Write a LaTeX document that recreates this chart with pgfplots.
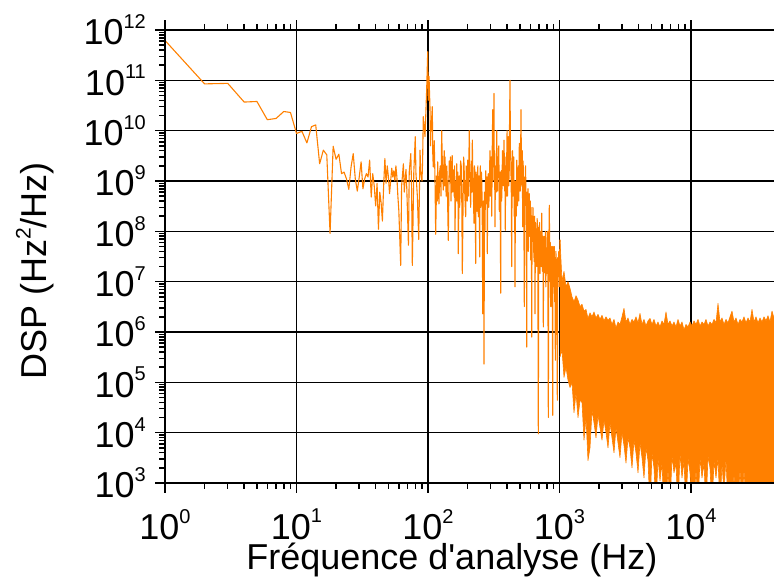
\documentclass[border=0pt]{standalone}
\usepackage{fontspec}
\setmainfont{Liberation Sans}
\usepackage{pgfplots}
\pgfplotsset{compat=1.18}
\definecolor{dsp}{RGB}{255,128,0}
\newcommand{\p}[1]{10\raisebox{0.45em}{\fontsize{20}{20}\selectfont #1}}
\begin{document}
\fontsize{36}{43}\selectfont
\begin{tikzpicture}
\begin{axis}[
  xmode=log, ymode=log,
  scale only axis, width=609pt, height=453pt,
  xmin=1, xmax=42777, ymin=1e3, ymax=1e12,
  axis x line*=box, axis y line*=left,
  axis line style={line width=2pt, black},
  xtick={1,10,100,1000,10000},
  xticklabels={\p{0},\p{1},\p{2},\p{3},\p{4}},
  ytick={1e3,1e4,1e5,1e6,1e7,1e8,1e9,1e10,1e11,1e12},
  yticklabels={\p{3},\p{4},\p{5},\p{6},\p{7},\p{8},\p{9},\p{10},\p{11},\p{12}},
  tick align=outside,
  major tick length=10pt, minor tick length=6pt,
  every tick/.style={black, line width=1.5pt},
  xmajorgrids, ymajorgrids,
  major grid style={black, line width=1.3pt},
  xlabel={Fréquence d\textquotesingle analyse (Hz)},
  ylabel={DSP (Hz\raisebox{0.45em}{\fontsize{21}{21}\selectfont 2}/Hz)},
  xlabel style={at={(axis description cs:0.471,-0.192)}, anchor=base, inner sep=0pt},
  ylabel style={at={(axis description cs:-0.194,0.468)}, anchor=base},
  xticklabel style={inner sep=0pt, yshift=-16pt},
  yticklabel style={xshift=3pt},
]
\addplot[dsp, line width=1.1pt, line join=round] coordinates {
(1,6.2e11) (2,8.5e10) (3,8.7e10) (4,3.7e10) (5,3.8e10) (6,1.65e10) (7,1.75e10) (8,2.4e10) (9,2.3e10)
(10,8.8e9) (11,9.7e9) (12,5.7e9) (13,1.2e10) (14,1.3e10) (15,2.2e9) (16,4.1e9) (17,3.3e9) (18,9.1e7)
(19,4.9e9) (20,2.7e9) (21,3.4e9) (22,1.4e9) (23,1.5e9) (24,1.1e9) (25,6.8e8) (26,1.9e9) (27,3.5e9)
(28,1.1e9) (29,6.3e8) (30,1.2e9) (31,2.4e9) (32,7.0e8) (33,1.1e9) (34,1.4e9) (35,1.2e9) (36,2.6e9)
(37,4.8e8) (38,1.4e9) (39,8e8) (40,3.2e8) (41,9e8) (42,1.1e8) (43,6e8) (44,3.7e8) (45,1.6e8) (46,8e8)
(47,2.8e9) (48,9e8) (49,2.0e9) (50,1.2e9) (51,5.6e8) (52,1.0e9) (53,1.8e9) (54,1.2e9) (55,1.6e9)
(56,1.0e9) (57,2.0e9) (58,1.2e9) (59,5e8) (60,2.6e8) (62,2.1e7) (63,8e8) (65,2.2e9) (66,6e8) (68,1.7e9)
(69,7e8) (71,5.3e7) (72,1.5e9) (74,3.5e9) (75,8e8) (76,2.1e7) (78,1.5e9) (80,7.6e9) (81,1.4e9) (83,5e8)
(85,6.9e7) (87,4.1e9) (88,1.5e9) (90,1.0e9) (91,2.5e9)
(92.1,1.9e10) (94.9,7.6e9) (97.7,6.5e10) (99.5,3.7e11) (100.5,4.0e10) (101.8,1.2e11) (103.6,2.75e10)
(104.5,5.0e9) (105.4,1e10) (107.8,3.0e10) (108.8,3.2e9) (109.7,1.9e9) (111.5,6.3e9)
(113.0,1.2e9) (114.4,8.7e7) (116.5,1.26e9) (117.5,4e8) (118.5,2.4e9) (119.8,7.9e8) (121.2,3.5e8)
(122.6,1.5e9) (124.0,2.0e9) (125.6,5.0e8) (127.1,1e10) (128.9,1.6e9) (130.7,6.6e8) (131.8,2e9)
(132.8,4.0e9) (133.8,8e8) (134.7,3.0e9) (136,1.2e9) (137.5,5.0e8) (139,2e9) (140.2,8.9e8)
(142.7,6.6e7) (145.0,2.5e9) (147.0,1.2e9) (148.3,3e9) (149.6,4.0e8) (151.2,1.2e9) (152.8,3.2e9)
(154.3,6e8) (155.8,1.66e9) (158.2,5.0e8) (159.3,2e9) (160.5,1.05e8) (162.7,1e9) (164,4e8)
(165.3,2.2e9) (167.6,4e8) (168.8,1.5e9) (170.0,3.6e7) (172.7,1.26e9) (174,3e8) (175.2,4.9e8)
(177,2.5e9) (178.9,2e9) (180.6,5e8) (182.4,1.45e7) (185.3,6.3e8) (186.6,3e9) (187.9,2.2e9)
(190.7,5e8) (193.5,1.95e8) (195.2,2e9) (197.0,1.26e9) (198.7,4e8) (200.4,2.6e9) (203.3,5e8)
(204.7,3e9) (206.1,1e10) (207.8,2e9) (209.4,1e9) (211,3e8) (212.4,6.6e8) (214.6,2.5e9) (216,6e8)
(217.3,6.5e9) (219,1.5e9) (220.7,7.9e8) (223.8,1.45e8) (225.4,2e9) (227.0,1.6e9) (228.8,3e8)
(230.6,2.3e7) (232.2,1.5e9) (233.9,1e9) (235.5,2.5e8) (237.2,7.6e8) (239.3,2e9) (241.4,1.95e8)
(243,8e8) (244.3,1.26e9) (247.3,3.1e7) (248.6,8e8) (250.0,2e9) (251.5,3e8) (253.0,4.9e8)
(254.8,1.5e9) (256.6,1e9) (258.6,2e8) (260.7,2.3e6) (263.4,4e8) (266.7,2.3e5) (269,6e8)
(271.4,1.05e8) (273.3,8e8) (275.2,1.6e9) (277.4,4e8) (279.6,3.5e8) (281,1.2e9) (282.5,3.6e7)
(285,6e8) (287.5,1.4e9) (290,3e8) (292.6,7.6e8) (294.5,2e9) (296.2,4e9) (298,5e8) (299.9,1.4e9)
(302.5,3e9) (305.2,2e8) (308,4e9) (310.6,2.6e10) (312,1e9) (313.8,2.5e9) (315.7,8e9) (317.7,5.5e10)
(319,2e9) (320.5,4e9) (322,8e8) (323.3,1.23e8) (325.5,1.5e9) (327.9,2e9) (330.5,6e8) (333.1,1e10)
(335.5,2.5e9) (337.8,6.3e8) (340,3e9) (342.6,1.2e9) (345.5,5e9) (348.6,2.5e8) (353,1.5e9)
(357.3,5.9e6) (359,8e8) (361.0,1.6e9) (363,4e8) (365.5,7.6e8) (368.5,4e9) (371.9,3.2e9) (375,8e8)
(378.5,6.5e9) (381,2e9) (383.2,6.3e8) (385,3e9) (387.2,1.05e8) (389.5,1.5e9) (392.0,2e9)
(394.5,5e8) (396.8,2.6e9) (399.5,1e10) (402.4,5e8) (405,3e9) (408.1,7.6e9) (411,8e8) (414.6,1.6e9)
(417.5,2e10) (420.5,1e11) (423.5,4e9) (426.4,2.5e9) (430,6e8) (433.2,2e7) (436,1.5e9) (439.3,4e9)
(442.5,5e8) (445.5,1.2e9) (449,3e9) (452.5,2e8) (455.5,1e9) (458.9,7.9e6) (462,5e8) (465.4,1e9)
(469,2e8) (472.8,2.6e9) (476,8e8) (479.5,3.2e8) (483,1.5e9) (487.1,2e9) (491,4e8) (494.9,5.6e9)
(498.5,1e9) (502.7,6.3e8) (506,3e9) (509.8,2.6e10) (513,2e9) (517.0,7.9e8) (521,4e9) (525.2,1.23e8)
(529,2.5e9) (532.6,7.9e8) (536,2e8) (540.1,3.2e6) (544,1.2e9) (548.7,4e8) (552,2e9) (556.5,3.5e8)
(560,1e8) (563.3,5e5) (567,6e8) (571.3,1.6e8) (576,7e8) (580.3,4e7) (585,3e8) (589.6,5.6e8)
(593,1e8) (596.9,7.9e7) (600.5,4e8) (604.2,2.7e7) (607,3e8) (609.5,2e8) (612,5e7) (614.9,7.9e5)
(619,2e8) (623.6,6.3e7) (628,3e8) (632.4,1.66e8) (637,4e7) (642.4,2.5e7) (647,2e8) (651.5,2.3e6)
(656,1.5e8) (660.7,1e8) (666,3e7) (671.2,2e7) (676,1.8e8) (680.6,1.26e8) (685,2e7) (690.2,9.5e3)
(696,1.2e8) (701.2,6.3e7) (706,1.5e8) (711.1,1.45e7) (716,1e8) (721.1,7.9e7) (727,2e7) (732.6,2.3e8)
(738,5e7) (742.9,1.6e7) (748,8e7) (753.4,1.26e6) (759,6e7) (765.4,7.9e7) (771,1.5e7) (776.2,4.9e7)
(782,1e8) (787.1,7.9e6) (793,4e7) (799.6,1.45e7) (805,6e7) (810.9,1e8) (816,1.5e7) (822.4,2e4)
(830,5e7) (836.9,3.3e8) (842,3e7) (847.2,1e7) (852,6e7) (857.7,3.2e6) (865,4e7) (872.8,5e7)
(880,1e7) (888.2,2.2e4) (893,5e7) (897.6,3.2e7) (903,8e6) (908.7,2e7) (914,5e7) (919.9,4e6)
(925,3e7) (929.6,2.75e5) (938,4e7) (946.0,2.5e7) (954,5e6) (962.7,4.4e4) (970,3e7) (979.2,1.6e7)
(988,4e7) (996.5,7.9e6) (1002,3e7) (1008.8,6.8e7)
};
\addplot[dsp, line width=0.6pt, line join=round, fill=dsp] coordinates {
(1009,6.8e7) (1045,1e7) (1082,1.6e7) (1121,7.9e6) (1161,1e7) (1202,7.4e6) (1245,5e6) (1289,4e6)
(1335,5.25e6) (1383,4.3e6) (1432,3.2e6) (1483,3.55e6) (1536,2.6e6) (1591,2.8e6) (1647,1.86e6)
(1706,2.4e6) (1767,2e6) (1830,2.5e6) (1895,1.9e6) (1963,2.24e6) (2032,1.78e6) (2105,2.14e6)
(2180,1.66e6) (2258,2e6) (2338,1.7e6) (2421,1.9e6) (2507,1.41e6) (2597,1.78e6) (2689,1.2e6)
(2785,1.58e6) (2884,1.41e6) (2987,2e6) (3094,2.95e6) (3204,1.58e6) (3318,1.9e6) (3436,1.41e6)
(3559,1.78e6) (3686,1.58e6) (3817,2e6) (3954,1.51e6) (4094,2.34e6) (4240,1.41e6) (4391,1.78e6)
(4548,1.32e6) (4710,1.66e6) (4878,1.86e6) (5051,1.41e6) (5231,1.78e6) (5418,1.32e6) (5611,1.58e6)
(5811,1.26e6) (6018,1.66e6) (6232,1.41e6) (6455,2.5e6) (6685,1.41e6) (6923,1.66e6) (7170,1.32e6)
(7425,1.58e6) (7690,1.26e6) (7964,1.78e6) (8248,1.32e6) (8542,1.58e6) (8846,1.1e6) (9162,1.41e6)
(9488,1.26e6) (9826,1.58e6) (10176,1.32e6) (10539,1.66e6) (10915,1.41e6) (11304,1.78e6)
(11707,1.32e6) (12124,1.58e6) (12556,1.41e6) (13003,1.78e6) (13467,1.32e6) (13947,1.58e6)
(14444,1.41e6) (14959,1.78e6) (15492,1.51e6) (16044,3.7e6) (16616,1.58e6) (17208,1.9e6)
(17822,1.41e6) (18457,1.78e6) (19115,1.51e6) (19796,2e6) (20502,2.6e6) (21232,1.58e6)
(21989,1.9e6) (22773,1.41e6) (23585,1.78e6) (24425,1.58e6) (25296,2e6) (26198,1.51e6)
(27131,1.9e6) (28098,1.58e6) (29100,2.8e6) (30137,1.58e6) (31211,2e6) (32324,1.51e6)
(33476,1.9e6) (34669,1.58e6) (35905,2e6) (37185,1.66e6) (38510,2.1e6) (39883,1.58e6)
(41304,2.6e6) (42777,1.9e6) (44100,1.9e6)
(44100,300) (26198,300) (25296,2000) (24425,300) (23585,2000) (22773,300) (21989,300)
(21232,1600) (20502,300) (19796,1000) (19115,300) (18457,3200) (17822,630) (17208,2500)
(16616,300) (16044,3200) (15492,1260) (14959,2800) (14444,300) (13947,2000) (13467,3500)
(13003,300) (12556,2500) (12124,1260) (11707,3200) (11304,300) (10915,2000) (10539,300)
(10176,300) (9826,1600) (9488,3200) (9162,300) (8846,2800) (8542,1260) (8248,4000) (7964,300)
(7690,2500) (7425,1600) (7170,3500) (6923,300) (6685,2000) (6455,300) (6232,300) (6018,2500)
(5811,1100) (5611,3200) (5418,300) (5231,2000) (5051,4000) (4878,300) (4710,2800) (4548,5000)
(4391,1260) (4240,3200) (4094,6300) (3954,1600) (3817,4000) (3686,7100) (3559,2000) (3436,5000)
(3318,7900) (3204,2500) (3094,5600) (2987,10000) (2884,3200) (2785,6300) (2689,12600) (2597,4000)
(2507,7900) (2421,15800) (2338,5000) (2258,10000) (2180,17800) (2105,7100) (2032,12600)
(1963,22400) (1895,7900) (1830,15800) (1767,28000) (1706,5000) (1647,2800) (1591,20000)
(1536,7100) (1483,40000) (1432,44000) (1383,20000) (1335,63000) (1289,25000) (1245,1e5)
(1202,79000) (1161,1.1e5) (1121,2e5) (1082,1.26e5) (1045,4.4e5) (1009,3.2e5)
};
\draw[black, line width=2pt] (rel axis cs:0,1) -- (rel axis cs:0,0) -- (rel axis cs:1,0);
\draw[black, line width=2pt] (rel axis cs:0,1) -- (rel axis cs:1,1);
\end{axis}
\pgfresetboundingbox
\path ([shift={(-165pt,-94pt)}]current axis.south west) rectangle ([shift={(0pt,30pt)}]current axis.north east);
\end{tikzpicture}
\end{document}
